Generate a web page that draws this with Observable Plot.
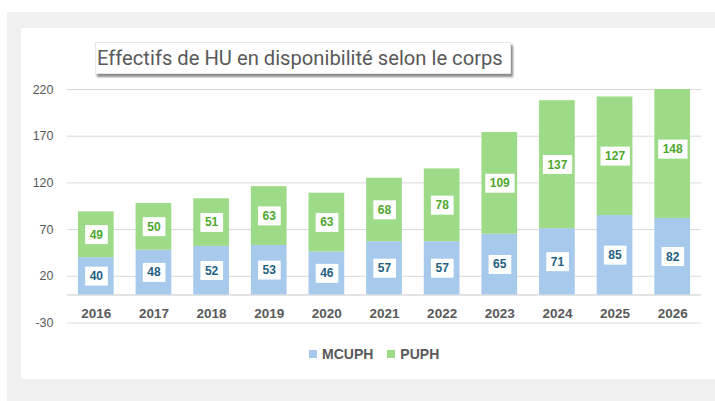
<!DOCTYPE html>
<html><head><meta charset="utf-8">
<script src="https://cdn.jsdelivr.net/npm/d3@7"></script>
<script src="https://cdn.jsdelivr.net/npm/@observablehq/plot@0.6"></script>
<style>
html,body{margin:0;padding:0;background:#fff;}
#root{position:relative;width:715px;height:401px;overflow:hidden;background:#fff;}
#frame{position:absolute;left:7px;top:12px;width:708px;height:389px;background:#f0f0f0;}
#panel{position:absolute;left:21px;top:28px;width:694px;height:351px;background:#fff;}
#chart{position:absolute;left:21px;top:28px;}
#title{position:absolute;left:95px;top:42px;width:416px;height:32px;box-sizing:border-box;background:#fff;border:1px solid #e6e6e6;box-shadow:2px 3px 2px rgba(0,0,0,0.45);font-family:Roboto,"Open Sans",sans-serif;color:#595959;line-height:30px;white-space:nowrap;padding-left:1px;}
#title span{display:inline-block;}
#legend{position:absolute;left:309px;top:344px;display:flex;gap:14px;font-family:"Liberation Sans",Arial,sans-serif;font-weight:bold;font-size:14px;color:#595959;line-height:20px;}
#legend .item{display:flex;align-items:center;}
#legend .sw{width:8px;height:8px;margin-right:5px;}
</style>
</head><body>
<div id="root">
  <div id="frame"></div>
  <div id="panel"></div>
  <div id="chart"></div>
  <div id="title"><span id="titletext"></span></div>
  <div id="legend"></div>
</div>
<script>
const titleText = "Effectifs de HU en disponibilité selon le corps";
const years = ["2016","2017","2018","2019","2020","2021","2022","2023","2024","2025","2026"];
const series = ["MCUPH","PUPH"];
const mcuph = [40,48,52,53,46,57,57,65,71,85,82];
const puph  = [49,50,51,63,63,68,78,109,137,127,148];
const yTicks = [-30,20,70,120,170,220];
const barColors = ["#a6c9ec","#9ddb88"];
const labelColors = {MCUPH:"#1f5f82", PUPH:"#4ea72e"};

const rows = [];
years.forEach((y,i)=>{
  rows.push({year:y, corps:"MCUPH", value:mcuph[i]});
  rows.push({year:y, corps:"PUPH", value:puph[i]});
});

const chart = Plot.plot({
  width: 694, height: 312,
  marginLeft: 46, marginRight: 14, marginTop: 61, marginBottom: 17.5,
  x: {type: "band", domain: years, paddingInner: 0.38, paddingOuter: 0.19, round: false},
  y: {domain: [-30, 220]},
  color: {domain: series, range: barColors},
  style: {fontFamily: "'Liberation Sans', Arial, sans-serif", background: "transparent", overflow: "visible"},
  marks: [
    Plot.gridY(yTicks, {stroke: "#d9d9d9", strokeOpacity: 1}),
    Plot.ruleY([0], {stroke: "#c8c8c8"}),
    Plot.barY(rows, {x: "year", y: "value", fill: "corps", z: "corps", clip: true}),
    Plot.text(rows, Plot.stackY({x: "year", y: "value", z: "corps", text: d => String(d.value),
      fill: d => labelColors[d.corps], fontWeight: "bold", fontSize: 12})),
    Plot.axisY(yTicks, {tickSize: 0, tickPadding: 14, fontSize: 12.5, fill: "#595959", tickFormat: d => String(d), label: null}),
    Plot.axisX({anchor: "bottom", tickSize: 0, tickPadding: 0, lineAnchor: "middle", dy: -9.5, fontSize: 13.5, fontWeight: "bold", fill: "#595959", label: null})
  ]
});
document.getElementById("chart").append(chart);

// white boxes behind the value labels
d3.select(chart).selectAll('g[aria-label="text"] text').each(function(){
  const b = this.getBBox();
  const w = b.width + 9, h = 19;
  const r = document.createElementNS("http://www.w3.org/2000/svg","rect");
  r.setAttribute("x", b.x + b.width/2 - w/2);
  r.setAttribute("y", b.y + b.height/2 - h/2);
  r.setAttribute("width", w);
  r.setAttribute("height", h);
  r.setAttribute("fill", "#fff");
  const t = this.getAttribute("transform");
  if (t) r.setAttribute("transform", t);
  this.parentNode.insertBefore(r, this);
});

// title
const tt = document.getElementById("titletext");
tt.textContent = titleText;
tt.style.fontSize = "20px";
const w = tt.getBoundingClientRect().width;
tt.style.fontSize = (20 * 406 / w) + "px";

// legend
const leg = d3.select("#legend");
series.forEach((s,i)=>{
  const it = leg.append("div").attr("class","item");
  it.append("div").attr("class","sw").style("background", barColors[i]);
  it.append("span").text(s);
});
</script>
</body></html>
